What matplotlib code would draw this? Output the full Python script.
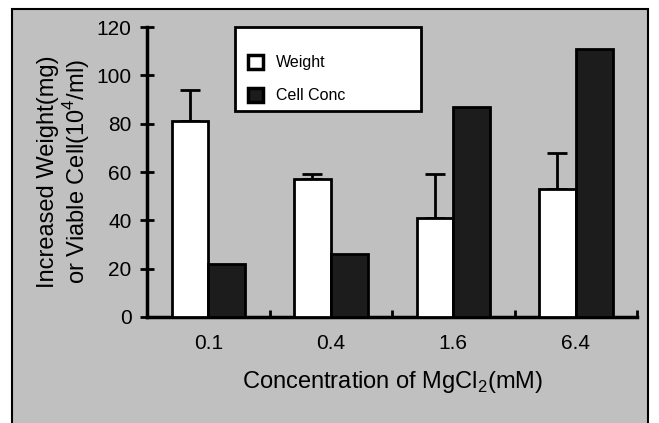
import matplotlib
matplotlib.use("Agg")
import matplotlib.pyplot as plt
from matplotlib.patches import Rectangle
import numpy as np

# Data
concentrations = ["0.1", "0.4", "1.6", "6.4"]
weight = [81, 57, 41, 53]
weight_err = [13, 2, 18, 15]
cell_conc = [22, 26, 87, 111]

plt.rcParams['font.family'] = ['Liberation Sans', 'DejaVu Sans']
plt.rcParams['mathtext.fontset'] = 'custom'
plt.rcParams['mathtext.rm'] = 'Liberation Sans'

bg = '#c0c0c0'
fig = plt.figure(figsize=(6.59, 4.23), dpi=100, facecolor='white')

# panel background with frame (bottom edge runs off the image)
panel = Rectangle((12 / 659, -0.05), (648 - 12) / 659, 1.05 - 9 / 423,
                  transform=fig.transFigure, facecolor=bg, edgecolor='black',
                  linewidth=1.5, zorder=-5)
fig.patches.append(panel)

ax = fig.add_axes([147 / 659, 1 - 317 / 423, (637 - 147) / 659, (317 - 27) / 423])
ax.patch.set_alpha(0)

x = np.arange(len(concentrations))
w = 0.3
ax.bar(x - w / 2, weight, w, color='white', edgecolor='black', linewidth=2,
       label='Weight', zorder=3)
ax.errorbar(x - w / 2, weight, yerr=[np.zeros(len(weight)), weight_err],
            fmt='none', ecolor='black', elinewidth=2, capsize=7, capthick=2, zorder=2)
ax.bar(x + w / 2, cell_conc, w, color='#1c1c1c', edgecolor='black', linewidth=2,
       label='Cell Conc', zorder=3)

ax.set_xlim(-0.5, 3.5)
ax.set_ylim(0, 120)
ax.set_yticks(range(0, 121, 20))
ax.set_xticks(x)
ax.set_xticklabels(concentrations)
ax.set_xticks([0.5, 1.5, 2.5, 3.5], minor=True)
ax.tick_params(axis='x', which='major', length=0, labelsize=15, pad=12)
ax.tick_params(axis='x', which='minor', direction='in', length=5, width=2)
ax.tick_params(axis='y', direction='inout', length=10, width=2, labelsize=15, pad=6)

for s in ['top', 'right']:
    ax.spines[s].set_visible(False)
for s in ['left', 'bottom']:
    ax.spines[s].set_linewidth(2.5)

ax.set_ylabel("Increased Weight(mg)\nor Viable Cell(10$^4$/ml)", fontsize=17,
              linespacing=1.12, labelpad=3)
ax.set_xlabel("Concentration of MgCl$_2$(mM)", fontsize=17, labelpad=12)

# legend box drawn separately so it spans the same area as the original
box = Rectangle(((235 - 147) / 490, (317 - 111) / 290), (421 - 235) / 490, (111 - 27) / 290,
                transform=ax.transAxes, facecolor='white', edgecolor='black',
                linewidth=2, zorder=4, clip_on=False)
ax.add_patch(box)
leg = ax.legend(loc='center left', bbox_to_anchor=((248 - 147) / 490, (317 - 79) / 290),
                frameon=False, handlelength=0.95, handleheight=1.0,
                handletextpad=0.8, labelspacing=1.1, borderpad=0, borderaxespad=0,
                prop={'size': 11.5})
leg.set_zorder(5)
for h in leg.legend_handles:
    h.set_linewidth(2.5)

fig.savefig("out.png", dpi=100, facecolor='white')
